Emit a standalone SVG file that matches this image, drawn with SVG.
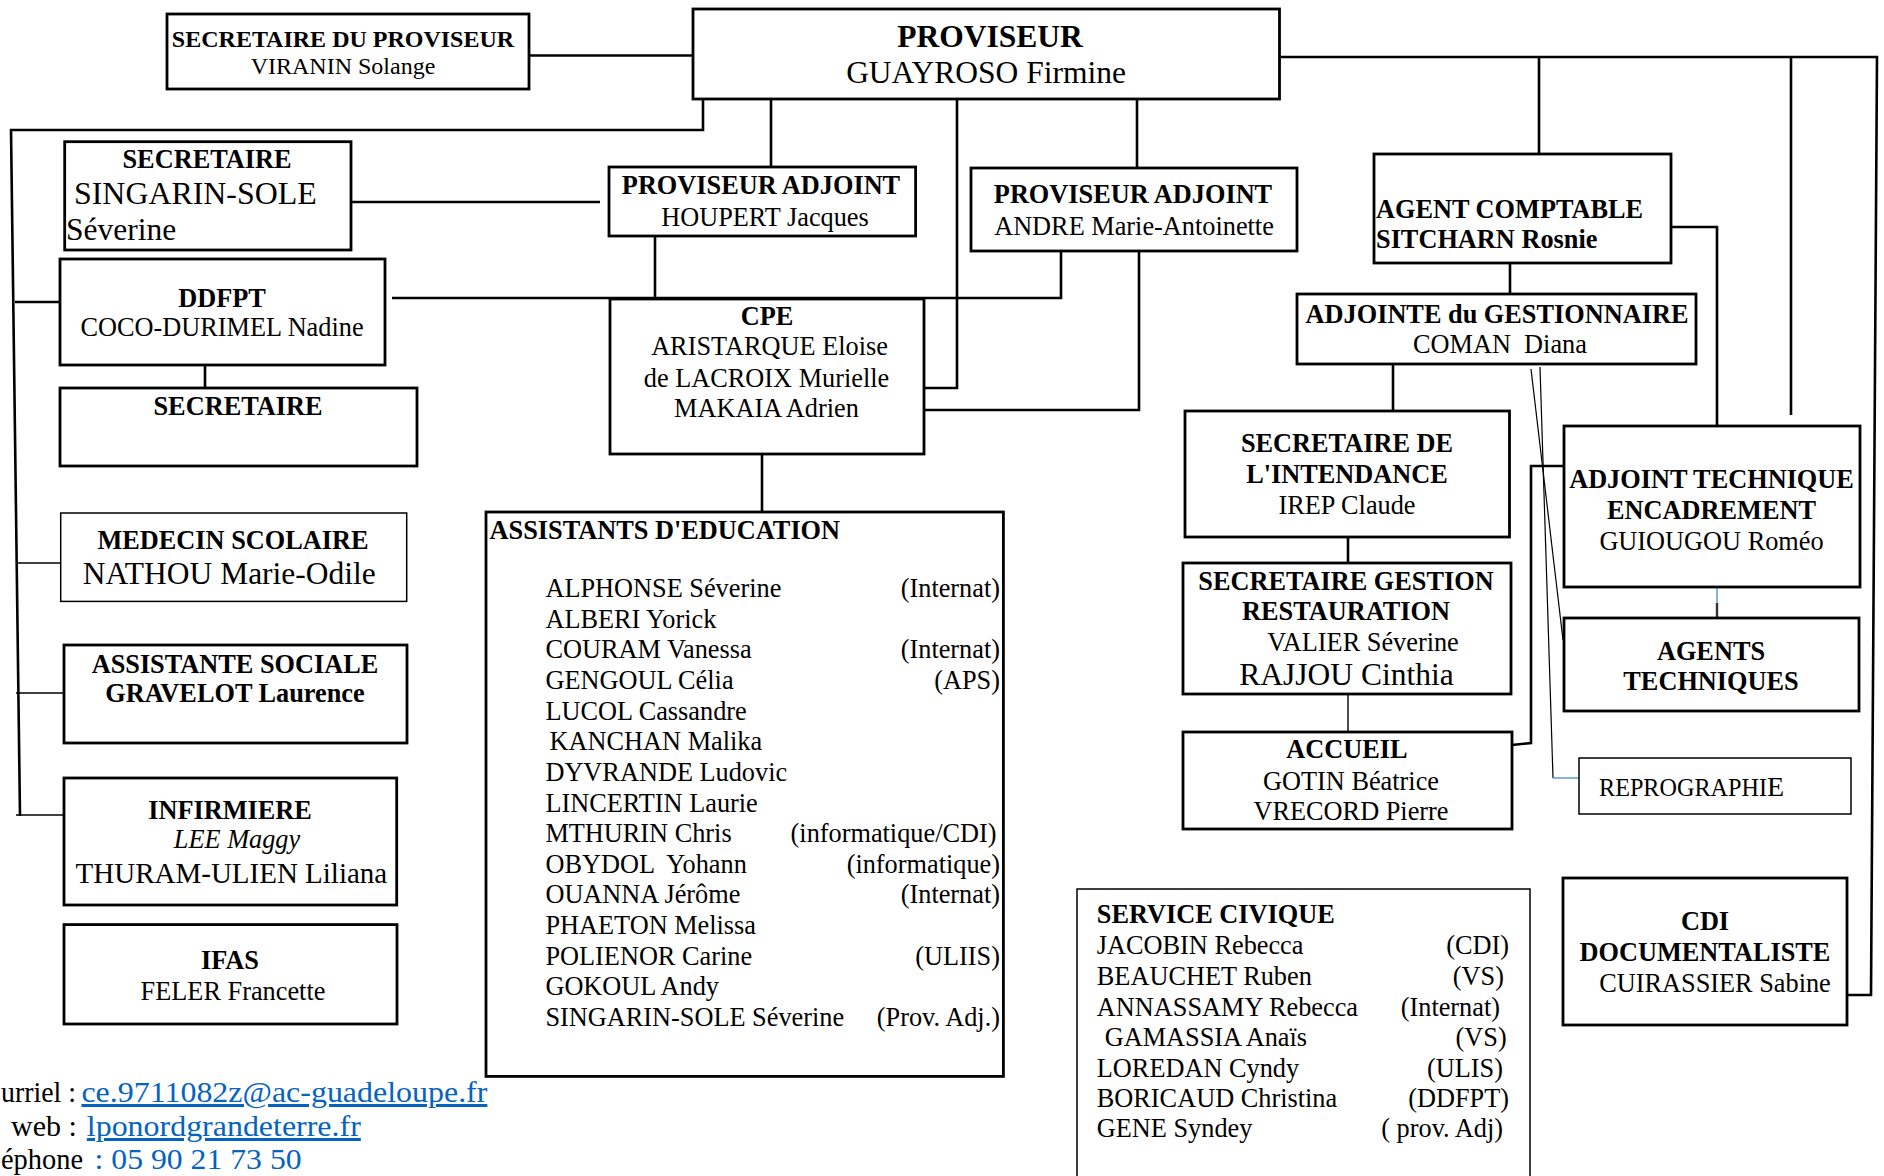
<svg xmlns="http://www.w3.org/2000/svg" width="1884" height="1176" viewBox="0 0 1884 1176">
<style>
.bx{fill:#fff;stroke:#000;stroke-width:2.8}
.bt{fill:#fff;stroke:#000;stroke-width:1.5}
.t{font-family:"Liberation Serif","Times New Roman",serif;font-size:26.3px;fill:#000}
.b{font-weight:bold}
.c{text-anchor:middle}
.r{text-anchor:end}
.lg{font-size:31.5px}
.it{font-style:italic}
.ln{fill:#0563C1;text-decoration:underline}
.bl{fill:#0563C1}
.ct{font-size:30px}
#connectors line,#connectors polyline{fill:none;stroke:#000;stroke-width:2.6}
#connectors .th{stroke-width:1.4}
#connectors .hair{stroke-width:1.2}
#connectors .blue{stroke:#5B9BD5;stroke-width:1.5}
</style>
<rect width="1884" height="1176" fill="#fff"/>

<g id="connectors">
  <line x1="529" y1="55.5" x2="693" y2="55.5"/>
  <polyline points="703,99 703,130 10,130"/>
  <line x1="11" y1="129" x2="20" y2="816"/>
  <line x1="15" y1="302" x2="60" y2="302"/>
  <line class="th" x1="16" y1="563" x2="61" y2="563"/>
  <line class="th" x1="16" y1="693" x2="64" y2="693" style="stroke-width:1.7"/>
  <line class="th" x1="16" y1="815" x2="64" y2="815"/>
  <line x1="351" y1="202" x2="600" y2="202"/>
  <line x1="771" y1="99" x2="771" y2="167"/>
  <line x1="655" y1="236" x2="655" y2="298"/>
  <polyline points="392,298 1061,298 1061,251"/>
  <polyline points="957,99 957,388 924,388"/>
  <line x1="1137" y1="99" x2="1137" y2="168"/>
  <polyline points="1139,251 1139,410 924,410"/>
  <line x1="205" y1="365" x2="205" y2="388"/>
  <line x1="762" y1="454" x2="762" y2="512"/>
  <polyline points="1279,57 1877,57 1871,995 1847,995"/>
  <line x1="1539" y1="57" x2="1539" y2="154"/>
  <line x1="1791" y1="57" x2="1791" y2="415"/>
  <polyline points="1671,227 1717,227 1717,426"/>
  <line x1="1510" y1="263" x2="1510" y2="294"/>
  <line x1="1393" y1="364" x2="1393" y2="411"/>
  <line x1="1348" y1="537" x2="1348" y2="563"/>
  <line class="th" x1="1348" y1="694" x2="1348" y2="732"/>
  <polyline points="1564,466 1531,466 1531,743 1512,745"/>
  <line class="hair" x1="1531" y1="369" x2="1563" y2="640"/>
  <line class="hair" x1="1540" y1="367" x2="1553" y2="778"/>
  <line class="blue" x1="1553" y1="778" x2="1579" y2="778"/>
  <line class="blue" x1="1717" y1="587" x2="1717" y2="603"/>
  <line x1="1717" y1="603" x2="1717" y2="618" style="stroke:#333;stroke-width:2.4"/>
</g>

<g id="sec-proviseur">
  <rect class="bx" x="167" y="14" width="362" height="75"/>
  <text class="t b c" x="343" y="47" style="font-size:24px">SECRETAIRE DU PROVISEUR</text>
  <text class="t c" x="343" y="74" style="font-size:24px">VIRANIN Solange</text>
</g>

<g id="proviseur">
  <rect class="bx" x="693" y="9" width="586.5" height="90"/>
  <text class="t b c lg" x="990" y="47">PROVISEUR</text>
  <text class="t c lg" x="986" y="83">GUAYROSO Firmine</text>
</g>

<g id="secretaire-singarin">
  <rect class="bx" x="64.7" y="141.7" width="286.3" height="108.3"/>
  <text class="t b c" x="207" y="168">SECRETAIRE</text>
  <text class="t" x="74" y="204" style="font-size:31.9px">SINGARIN-SOLE</text>
  <text class="t lg" x="66" y="240">Séverine</text>
</g>

<g id="proviseur-adjoint-houpert">
  <rect class="bx" x="609" y="167" width="306.6" height="69"/>
  <text class="t b c" x="761" y="194">PROVISEUR ADJOINT</text>
  <text class="t c" x="765" y="226">HOUPERT Jacques</text>
</g>

<g id="proviseur-adjoint-andre">
  <rect class="bx" x="971" y="168" width="326" height="83"/>
  <text class="t b c" x="1133" y="203">PROVISEUR ADJOINT</text>
  <text class="t c" x="1134" y="235">ANDRE Marie-Antoinette</text>
</g>

<g id="ddfpt">
  <rect class="bx" x="60" y="259" width="325" height="106"/>
  <text class="t b c" x="222" y="307">DDFPT</text>
  <text class="t c" x="222" y="336">COCO-DURIMEL Nadine</text>
</g>

<g id="secretaire-ddfpt">
  <rect class="bx" x="60" y="388" width="357" height="78"/>
  <text class="t b c" x="238" y="415">SECRETAIRE</text>
</g>

<g id="cpe">
  <rect class="bx" x="610" y="299" width="314" height="155"/>
  <text class="t b c" x="767" y="325">CPE</text>
  <text class="t c" x="769.5" y="355">ARISTARQUE Eloise</text>
  <text class="t c" x="766.5" y="387">de LACROIX Murielle</text>
  <text class="t c" x="766.5" y="417">MAKAIA Adrien</text>
</g>

<g id="agent-comptable">
  <rect class="bx" x="1374" y="154" width="297" height="109"/>
  <text class="t b" x="1376" y="218">AGENT COMPTABLE</text>
  <text class="t b" x="1376" y="248">SITCHARN Rosnie</text>
</g>

<g id="adjointe-gestionnaire">
  <rect class="bx" x="1297" y="294" width="399" height="70"/>
  <text class="t b c" x="1497" y="323">ADJOINTE du GESTIONNAIRE</text>
  <text class="t c" x="1500" y="353" xml:space="preserve">COMAN  Diana</text>
</g>

<g id="secretaire-intendance">
  <rect class="bx" x="1185" y="411" width="324.5" height="126"/>
  <text class="t b c" x="1347" y="452">SECRETAIRE DE</text>
  <text class="t b c" x="1347" y="483">L'INTENDANCE</text>
  <text class="t c" x="1347" y="514">IREP Claude</text>
</g>

<g id="secretaire-restauration">
  <rect class="bx" x="1183" y="563" width="328" height="131"/>
  <text class="t b c" x="1346" y="590">SECRETAIRE GESTION</text>
  <text class="t b c" x="1346" y="620">RESTAURATION</text>
  <text class="t c" x="1363" y="651">VALIER Séverine</text>
  <text class="t c lg" x="1346.5" y="685">RAJJOU Cinthia</text>
</g>

<g id="accueil">
  <rect class="bx" x="1183" y="732" width="329" height="97"/>
  <text class="t b c" x="1347" y="758">ACCUEIL</text>
  <text class="t c" x="1351" y="790">GOTIN Béatrice</text>
  <text class="t c" x="1351" y="820">VRECORD Pierre</text>
</g>

<g id="adjoint-technique">
  <rect class="bx" x="1564" y="426" width="296" height="161"/>
  <text class="t b c" x="1711.5" y="488">ADJOINT TECHNIQUE</text>
  <text class="t b c" x="1711.5" y="519">ENCADREMENT</text>
  <text class="t c" x="1711.5" y="550">GUIOUGOU Roméo</text>
</g>

<g id="agents-techniques">
  <rect class="bx" x="1564" y="618" width="295" height="93"/>
  <text class="t b c" x="1711" y="660">AGENTS</text>
  <text class="t b c" x="1711" y="690">TECHNIQUES</text>
</g>

<g id="reprographie">
  <rect class="bt" x="1579" y="758" width="272" height="56"/>
  <text class="t" x="1599" y="796" style="font-size:24.2px">REPROGRAPHI<tspan style="font-size:28px">E</tspan></text>
</g>

<g id="medecin-scolaire">
  <rect class="bt" x="60.7" y="513" width="346" height="88.4"/>
  <text class="t b c" x="233" y="548.6">MEDECIN SCOLAIRE</text>
  <text class="t c lg" x="229.3" y="583.6">NATHOU Marie-Odile</text>
</g>

<g id="assistante-sociale">
  <rect class="bx" x="64" y="645" width="343" height="98"/>
  <text class="t b c" x="235" y="673">ASSISTANTE SOCIALE</text>
  <text class="t b c" x="235" y="702">GRAVELOT Laurence</text>
</g>

<g id="infirmiere">
  <rect class="bx" x="64" y="778" width="332.7" height="127"/>
  <text class="t b c" x="230" y="818.6">INFIRMIERE</text>
  <text class="t it c" x="237" y="848">LEE Maggy</text>
  <text class="t c" x="231.4" y="883" style="font-size:29px">THURAM-ULIEN Liliana</text>
</g>

<g id="ifas">
  <rect class="bx" x="64" y="924.6" width="333" height="99.4"/>
  <text class="t b c" x="230" y="968.6">IFAS</text>
  <text class="t c" x="233" y="999.6">FELER Francette</text>
</g>

<g id="assistants-education">
  <rect class="bx" x="486" y="512" width="517.4" height="564.4"/>
  <text class="t b" x="489.6" y="538.8">ASSISTANTS D'EDUCATION</text>
  <text class="t" x="545.4" y="597">ALPHONSE Séverine</text>
  <text class="t r" x="1000" y="597">(Internat)</text>
  <text class="t" x="545.4" y="627.6">ALBERI Yorick</text>
  <text class="t" x="545.4" y="658.3">COURAM Vanessa</text>
  <text class="t r" x="1000" y="658.3">(Internat)</text>
  <text class="t" x="545.4" y="688.9">GENGOUL Célia</text>
  <text class="t r" x="1000" y="688.9">(APS)</text>
  <text class="t" x="545.4" y="719.6">LUCOL Cassandre</text>
  <text class="t" x="549.6" y="750.2">KANCHAN Malika</text>
  <text class="t" x="545.4" y="780.8">DYVRANDE Ludovic</text>
  <text class="t" x="545.4" y="811.5">LINCERTIN Laurie</text>
  <text class="t" x="545.4" y="842.1">MTHURIN Chris</text>
  <text class="t r" x="996.5" y="842.1">(informatique/CDI)</text>
  <text class="t" x="545.4" y="872.8" xml:space="preserve">OBYDOL  Yohann</text>
  <text class="t r" x="1000" y="872.8">(informatique)</text>
  <text class="t" x="545.4" y="903.4">OUANNA Jérôme</text>
  <text class="t r" x="1000" y="903.4">(Internat)</text>
  <text class="t" x="545.4" y="934">PHAETON Melissa</text>
  <text class="t" x="545.4" y="964.7">POLIENOR Carine</text>
  <text class="t r" x="1000" y="964.7">(ULIIS)</text>
  <text class="t" x="545.4" y="995.3">GOKOUL Andy</text>
  <text class="t" x="545.4" y="1026">SINGARIN-SOLE Séverine</text>
  <text class="t r" x="1000" y="1026">(Prov. Adj.)</text>
</g>

<g id="service-civique">
  <rect class="bt" x="1077" y="889" width="453" height="300"/>
  <text class="t b" x="1096.8" y="923.3">SERVICE CIVIQUE</text>
  <text class="t" x="1096.8" y="954.3">JACOBIN Rebecca</text>
  <text class="t r" x="1509" y="954.3">(CDI)</text>
  <text class="t" x="1096.8" y="985">BEAUCHET Ruben</text>
  <text class="t r" x="1504" y="985">(VS)</text>
  <text class="t" x="1096.8" y="1015.7">ANNASSAMY Rebecca</text>
  <text class="t r" x="1500" y="1015.7">(Internat)</text>
  <text class="t" x="1104.7" y="1046">GAMASSIA Anaïs</text>
  <text class="t r" x="1506.7" y="1046">(VS)</text>
  <text class="t" x="1096.8" y="1076.7">LOREDAN Cyndy</text>
  <text class="t r" x="1503" y="1076.7">(ULIS)</text>
  <text class="t" x="1096.8" y="1106.7">BORICAUD Christina</text>
  <text class="t r" x="1509" y="1106.7">(DDFPT)</text>
  <text class="t" x="1096.8" y="1137.3">GENE Syndey</text>
  <text class="t r" x="1503" y="1137.3">( prov. Adj)</text>
</g>

<g id="cdi">
  <rect class="bx" x="1563" y="878" width="284" height="147"/>
  <text class="t b c" x="1705" y="930">CDI</text>
  <text class="t b c" x="1705" y="960.7">DOCUMENTALISTE</text>
  <text class="t c" x="1715" y="991.7">CUIRASSIER Sabine</text>
</g>

<g id="contacts">
  <text class="t ct" y="1102"><tspan x="1" textLength="75" lengthAdjust="spacingAndGlyphs">urriel :</tspan><tspan class="ln" x="81.4" textLength="406" lengthAdjust="spacingAndGlyphs">ce.9711082z@ac-guadeloupe.fr</tspan></text>
  <text class="t ct" y="1136"><tspan x="11">web :</tspan><tspan class="ln" x="86.8" textLength="274" lengthAdjust="spacingAndGlyphs">lponordgrandeterre.fr</tspan></text>
  <text class="t ct" y="1169"><tspan x="1" textLength="82" lengthAdjust="spacingAndGlyphs">éphone</tspan><tspan class="bl" x="94.6" textLength="207" lengthAdjust="spacingAndGlyphs">: 05 90 21 73 50</tspan></text>
</g>
</svg>
